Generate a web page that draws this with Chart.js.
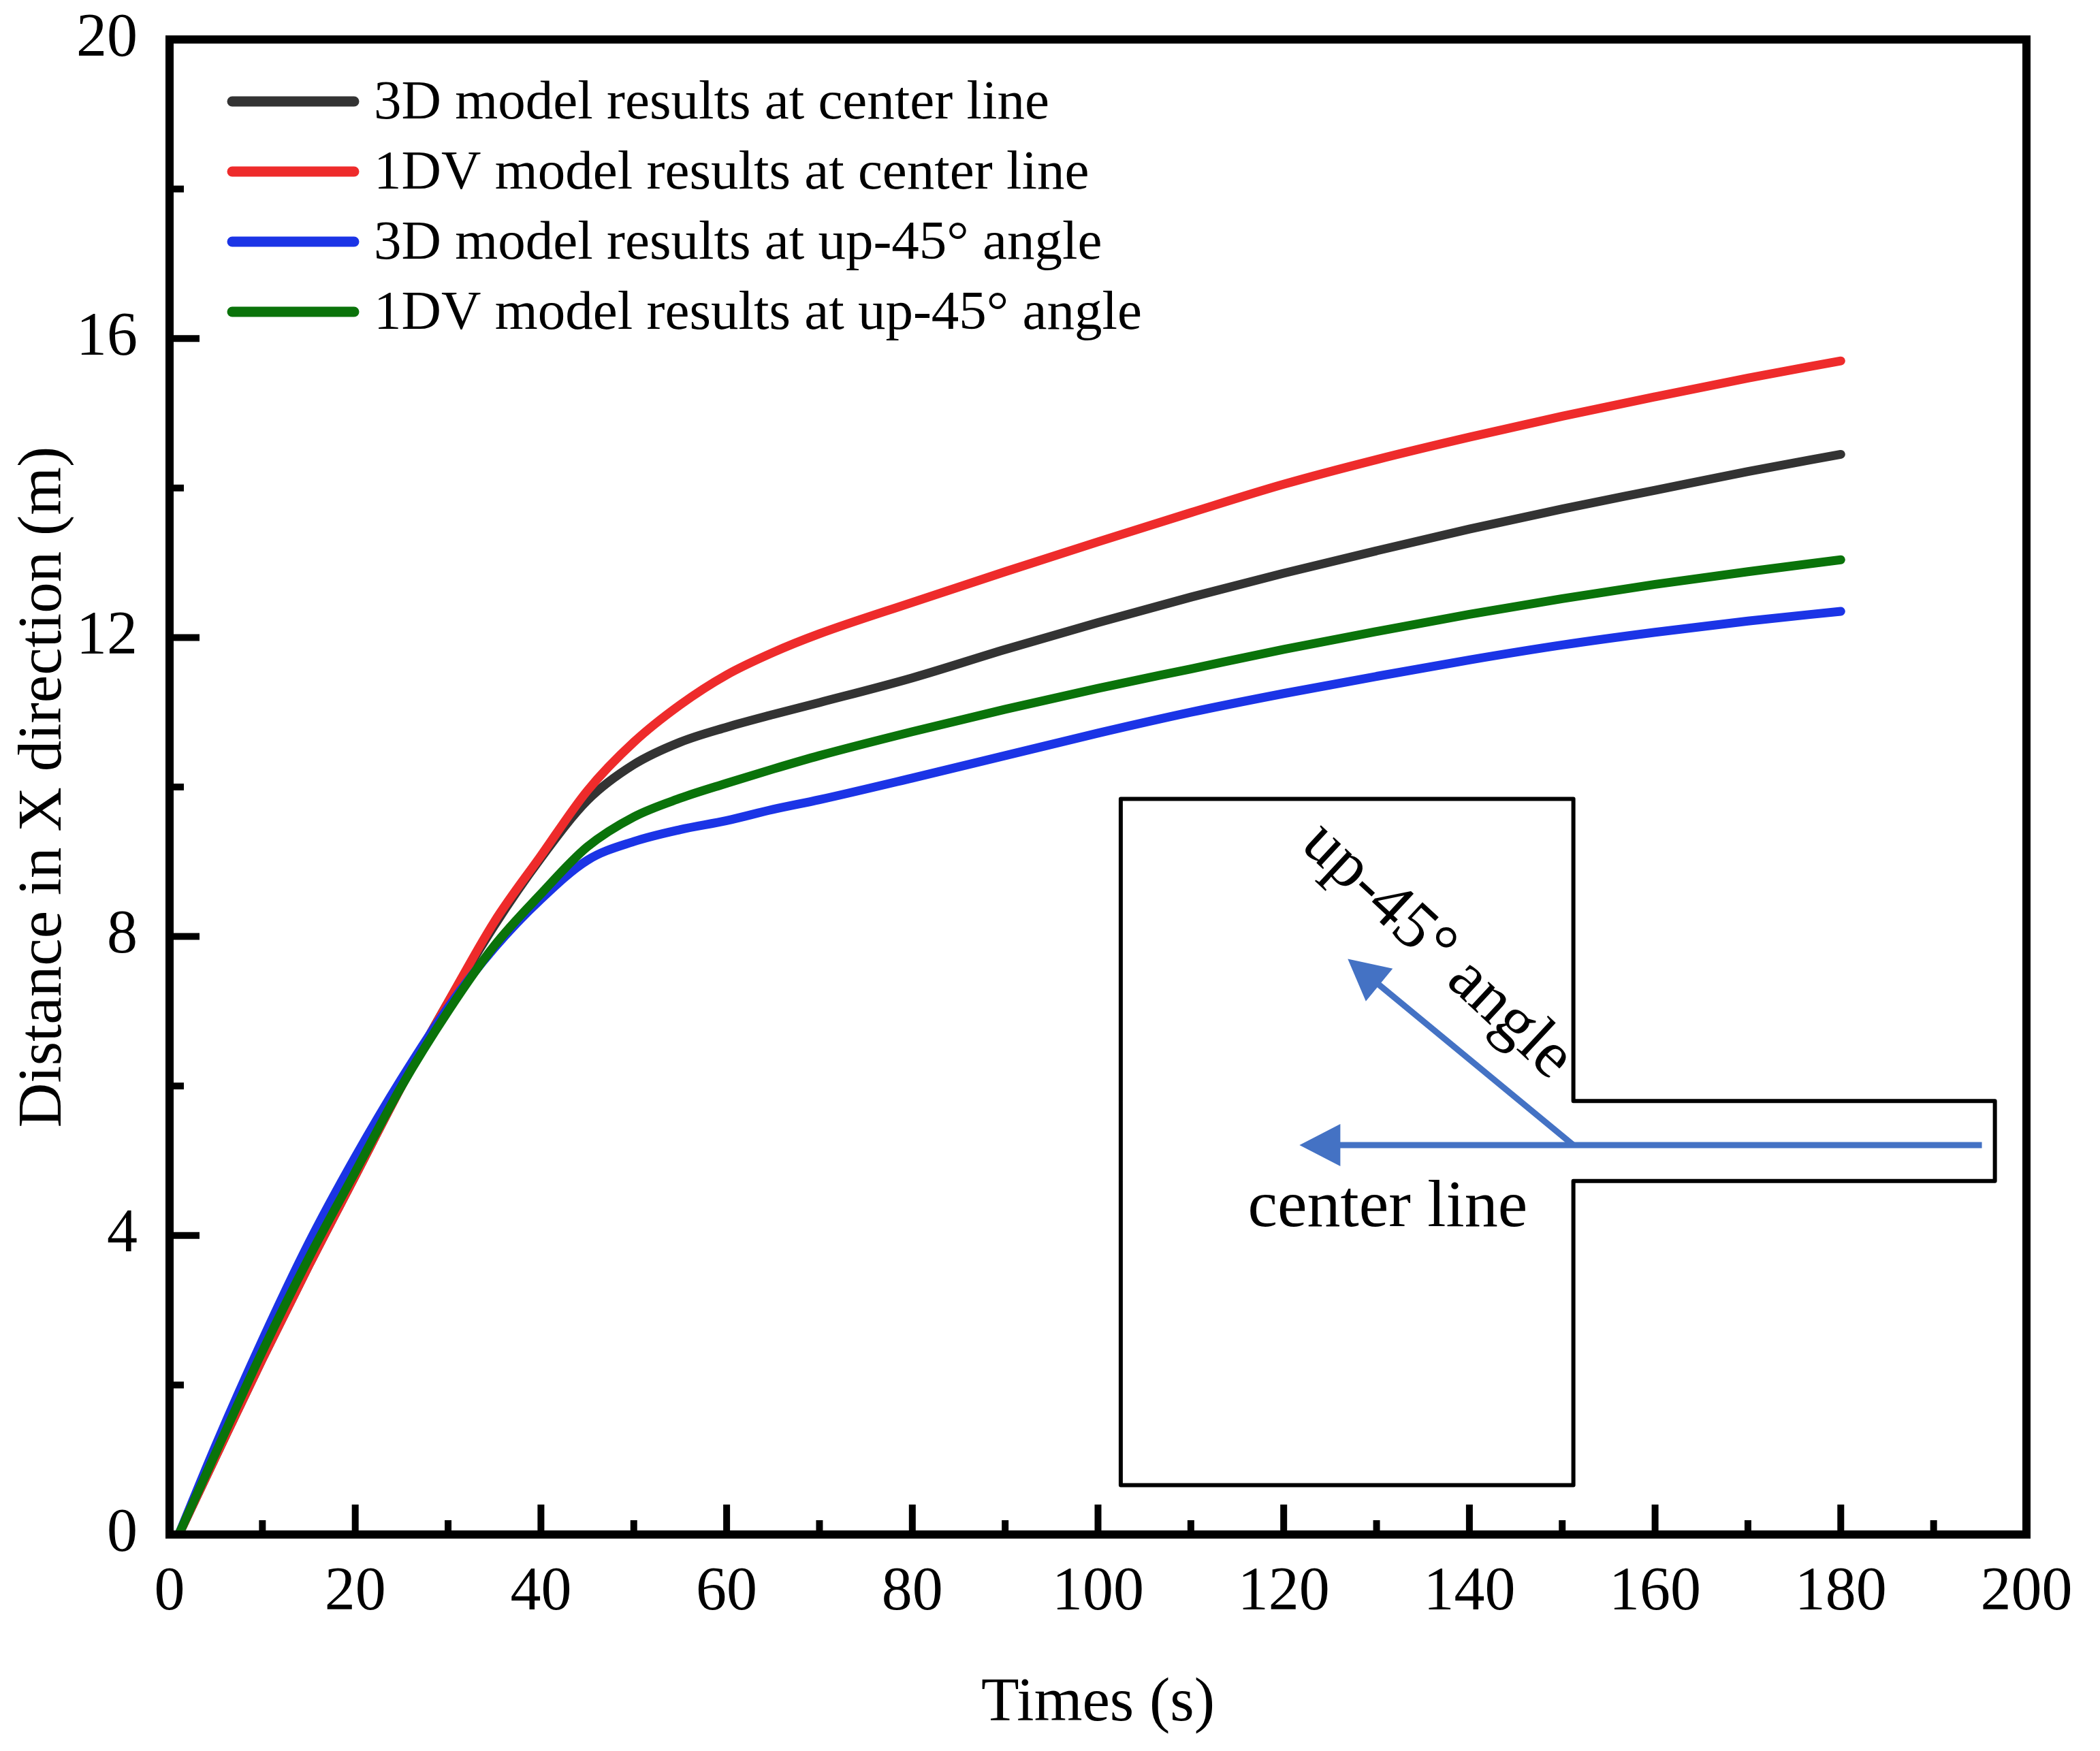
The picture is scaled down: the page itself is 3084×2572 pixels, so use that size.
<!DOCTYPE html>
<html>
<head>
<meta charset="utf-8">
<script src="https://cdn.jsdelivr.net/npm/chart.js@4.4.1/dist/chart.umd.min.js"></script>
<style>
html,body{margin:0;padding:0;background:#fff;}
canvas{display:block;}
</style>
</head>
<body>
<canvas id="c" width="3084" height="2572"></canvas>
<script>
// ---- data ----
const times = [1, 5, 10, 15, 20, 25, 30, 35, 40, 45, 50, 55, 60, 65, 70, 80, 90, 100, 110, 120, 130, 140, 150, 160, 170, 180];
const center3D  = [0, 1.05, 2.35, 3.6, 4.8, 6.0, 7.12, 8.15, 9.05, 9.82, 10.3, 10.6, 10.8, 10.97, 11.13, 11.46, 11.84, 12.2, 12.54, 12.86, 13.16, 13.45, 13.72, 13.97, 14.22, 14.45];
const center1DV = [0, 1.05, 2.35, 3.6, 4.8, 6.0, 7.12, 8.2, 9.08, 9.95, 10.6, 11.1, 11.5, 11.8, 12.05, 12.47, 12.88, 13.28, 13.67, 14.05, 14.38, 14.68, 14.96, 15.22, 15.47, 15.70];
const up45_3D   = [0, 1.2, 2.6, 3.9, 5.05, 6.1, 7.05, 7.85, 8.5, 9.02, 9.27, 9.43, 9.55, 9.7, 9.83, 10.12, 10.42, 10.72, 11.0, 11.25, 11.48, 11.7, 11.9, 12.07, 12.22, 12.35];
const up45_1DV  = [0, 1.1, 2.45, 3.7, 4.85, 6.0, 7.0, 7.88, 8.57, 9.2, 9.6, 9.85, 10.05, 10.24, 10.42, 10.74, 11.04, 11.32, 11.58, 11.84, 12.08, 12.31, 12.52, 12.71, 12.88, 13.04];
const seriesLabels = ['3D model results at center line', '1DV model results at center line', '3D model results at up-45\u00B0 angle', '1DV model results at up-45\u00B0 angle'];
const xTicks = [0, 20, 40, 60, 80, 100, 120, 140, 160, 180, 200];
const yTicks = [0, 4, 8, 12, 16, 20];
const xMinor = [10, 30, 50, 70, 90, 110, 130, 150, 170, 190];
const yMinor = [2, 6, 10, 14, 18];
const xTitle = 'Times (s)';
const yTitle = 'Distance in X direction (m)';
const insetLabels = ['up-45\u00B0 angle', 'center line'];

const colors = ['#333333', '#ee2b2b', '#1b34e6', '#0a730a'];
const drawOrder = [3, 2, 1, 0]; // lower = drawn on top
const FONT = "'Liberation Serif', 'Times New Roman', serif";

function pts(vals){ return times.map((t,i)=>({x:t, y:vals[i]})); }
const allSeries = [center3D, center1DV, up45_3D, up45_1DV];

const decor = {
  id: 'decor',
  afterDatasetsDraw(chart) {
    const ctx = chart.ctx;
    const xs = chart.scales.x, ys = chart.scales.y;
    const a = chart.chartArea;
    const X = v => xs.getPixelForValue(v), Y = v => ys.getPixelForValue(v);
    ctx.save();
    // inward ticks
    ctx.strokeStyle = '#000';
    ctx.lineWidth = 10;
    ctx.lineCap = 'butt';
    const tick = (x1,y1,x2,y2)=>{ctx.beginPath();ctx.moveTo(x1,y1);ctx.lineTo(x2,y2);ctx.stroke();};
    xTicks.forEach(v=>tick(X(v), a.bottom, X(v), a.bottom-44));
    xMinor.forEach(v=>tick(X(v), a.bottom, X(v), a.bottom-21));
    yTicks.forEach(v=>tick(a.left, Y(v), a.left+44, Y(v)));
    yMinor.forEach(v=>tick(a.left, Y(v), a.left+21, Y(v)));
    // frame
    ctx.lineWidth = 12;
    ctx.lineJoin = 'miter';
    ctx.strokeRect(a.left, a.top, a.right - a.left, a.bottom - a.top);

    // legend
    const legendOrder = [0,1,2,3];
    ctx.font = "81px " + FONT;
    ctx.textBaseline = 'middle';
    ctx.textAlign = 'left';
    legendOrder.forEach((di, k) => {
      const ds = chart.data.datasets[di];
      const ly = 149 + k * 103;
      ctx.strokeStyle = ds.borderColor;
      ctx.lineWidth = 15;
      ctx.lineCap = 'round';
      tick(341, ly, 520, ly);
      ctx.fillStyle = '#000';
      ctx.fillText(ds.label, 549, ly + 4);
    });

    // inset sketch (annotation in data units)
    const bL = 102.45, bR = 151.2, bT = 9.84, bB = 0.66;
    const cR = 196.6, cT = 5.80, cB = 4.73, cY = 5.21;
    ctx.strokeStyle = '#000';
    ctx.lineWidth = 6;
    ctx.lineCap = 'round';
    ctx.lineJoin = 'round';
    ctx.beginPath();
    ctx.moveTo(X(bL), Y(bT));
    ctx.lineTo(X(bR), Y(bT));
    ctx.lineTo(X(bR), Y(cT));
    ctx.lineTo(X(cR), Y(cT));
    ctx.lineTo(X(cR), Y(cB));
    ctx.lineTo(X(bR), Y(cB));
    ctx.lineTo(X(bR), Y(bB));
    ctx.lineTo(X(bL), Y(bB));
    ctx.closePath();
    ctx.stroke();

    const arrow = (x0,y0,x1,y1) => {
      const dx = x1-x0, dy = y1-y0, L = Math.hypot(dx,dy);
      const ux = dx/L, uy = dy/L;
      const hl = 60, hw = 31;
      const bx = x1 - ux*hl, by = y1 - uy*hl;
      ctx.strokeStyle = '#4472c4';
      ctx.lineWidth = 9;
      ctx.lineCap = 'butt';
      ctx.beginPath(); ctx.moveTo(x0,y0); ctx.lineTo(bx + ux*4, by + uy*4); ctx.stroke();
      ctx.fillStyle = '#4472c4';
      ctx.beginPath();
      ctx.moveTo(x1,y1);
      ctx.lineTo(bx - uy*hw, by + ux*hw);
      ctx.lineTo(bx + uy*hw, by - ux*hw);
      ctx.closePath();
      ctx.fill();
    };
    arrow(X(195.2), Y(cY), X(121.7), Y(cY));
    arrow(X(bR), Y(cY), X(126.9), Y(7.70));

    ctx.fillStyle = '#000';
    ctx.font = "98px " + FONT;
    ctx.textAlign = 'center';
    ctx.textBaseline = 'alphabetic';
    ctx.fillText(insetLabels[1], X(131.2), Y(4.13));
    ctx.save();
    ctx.translate(X(136.5), Y(7.80));
    ctx.rotate(43 * Math.PI / 180);
    ctx.textBaseline = 'middle';
    ctx.fillText(insetLabels[0], 0, 0);
    ctx.restore();
    ctx.restore();
  }
};

new Chart(document.getElementById('c'), {
  type: 'line',
  data: {
    datasets: allSeries.map((s, i) => ({
      label: seriesLabels[i],
      data: pts(s),
      borderColor: colors[i],
      backgroundColor: colors[i],
      borderWidth: 13,
      borderCapStyle: 'round',
      borderJoinStyle: 'round',
      pointRadius: 0,
      cubicInterpolationMode: 'monotone',
      fill: false,
      order: drawOrder[i]
    }))
  },
  options: {
    responsive: false,
    devicePixelRatio: 1,
    animation: false,
    layout: { padding: { left: 0, top: 58, right: 108, bottom: 0 } },
    plugins: { legend: { display: false }, tooltip: { enabled: false } },
    scales: {
      x: {
        type: 'linear', min: 0, max: 200,
        afterBuildTicks: s => { s.ticks = xTicks.map(v => ({ value: v })); },
        afterFit: s => { s.height = 318; s.paddingLeft = 0; s.paddingRight = 0; },
        grid: { display: false, drawTicks: false },
        border: { display: false },
        ticks: { padding: 32, color: '#000', font: { family: FONT, size: 90 }, maxRotation: 0 },
        title: { display: true, text: xTitle, color: '#000', font: { family: FONT, size: 91 }, padding: { top: 0, bottom: 14 } }
      },
      y: {
        type: 'linear', min: 0, max: 20,
        afterBuildTicks: s => { s.ticks = yTicks.map(v => ({ value: v })); },
        afterFit: s => { s.width = 249; s.paddingTop = 0; s.paddingBottom = 0; },
        grid: { display: false, drawTicks: false },
        border: { display: false },
        ticks: { padding: 47, color: '#000', font: { family: FONT, size: 90 } },
        title: { display: true, text: yTitle, color: '#000', font: { family: FONT, size: 91 }, padding: { top: 10, bottom: 0 } }
      }
    }
  },
  plugins: [decor]
});
</script>
</body>
</html>
